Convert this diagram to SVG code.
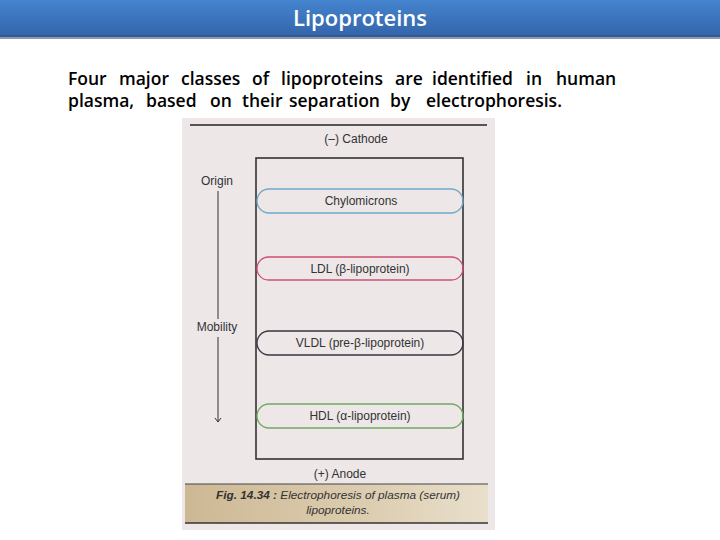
<svg xmlns="http://www.w3.org/2000/svg" width="720" height="540" viewBox="0 0 720 540">
<defs>
<linearGradient id="bar" x1="0" y1="0" x2="0" y2="1">
<stop offset="0" stop-color="#4584cf"/>
<stop offset="1" stop-color="#3466ab"/>
</linearGradient>
<linearGradient id="cap" x1="0" y1="0" x2="1" y2="0">
<stop offset="0" stop-color="#cdb894"/>
<stop offset="0.6" stop-color="#dccdb0"/>
<stop offset="1" stop-color="#e8dfcc"/>
</linearGradient>
<marker id="arr" markerWidth="8" markerHeight="8" refX="6" refY="4" orient="auto" markerUnits="userSpaceOnUse">
<path d="M2,1 L6,4 L2,7" fill="none" stroke="#333" stroke-width="1"/>
</marker>
<style>
.body{font-family:"Open Sans","Noto Sans","DejaVu Sans",sans-serif;font-size:17.5px;font-weight:600;fill:#000}
.lab{font-family:"Liberation Sans",Arial,sans-serif;font-size:12px;fill:#333}
.cap{font-family:"Liberation Sans",Arial,sans-serif;font-size:11.8px;font-style:italic;fill:#333}
.pill{fill:none;stroke-width:1.3}
</style>
</defs>
<rect width="720" height="540" fill="#fff"/>
<g id="title">
<rect x="0" y="0" width="720" height="35" fill="url(#bar)"/>
<rect x="0" y="35" width="720" height="2" fill="#2f5a92"/>
<rect x="0" y="37" width="720" height="2" fill="#8d9aab"/>
<text x="360" y="26" text-anchor="middle" font-family="'Open Sans','Noto Sans',sans-serif" font-size="22" font-weight="600" fill="#fff">Lipoproteins</text>
</g>
<g id="intro" class="body">
<text y="85"><tspan x="68">Four</tspan><tspan x="119">major</tspan><tspan x="181">classes</tspan><tspan x="252">of</tspan><tspan x="281">lipoproteins</tspan><tspan x="395">are</tspan><tspan x="432">identified</tspan><tspan x="526">in</tspan><tspan x="556">human</tspan></text>
<text y="107"><tspan x="68">plasma,</tspan><tspan x="146">based</tspan><tspan x="210">on</tspan><tspan x="242">their</tspan><tspan x="289">separation</tspan><tspan x="390">by</tspan><tspan x="426">electrophoresis.</tspan></text>
</g>
<g id="figure">
<rect x="182" y="118" width="313" height="412" fill="#ede7e8"/>
<line x1="190" y1="125" x2="487" y2="125" stroke="#555" stroke-width="2"/>
<text class="lab" x="356" y="143" text-anchor="middle">(–) Cathode</text>
<rect x="256" y="158" width="207" height="301" fill="none" stroke="#333" stroke-width="1.6"/>
<text class="lab" x="340" y="478" text-anchor="middle">(+) Anode</text>
</g>
<g id="caption">
<rect x="185" y="484" width="303" height="39" fill="url(#cap)"/>
<line x1="185" y1="484" x2="488" y2="484" stroke="#444" stroke-width="1.2"/>
<line x1="185" y1="523" x2="488" y2="523" stroke="#333" stroke-width="1.5"/>
<text class="cap" x="338" y="499" text-anchor="middle"><tspan font-weight="bold">Fig. 14.34 :</tspan> Electrophoresis of plasma (serum)</text>
<text class="cap" x="338" y="514" text-anchor="middle">lipoproteins.</text>
</g>
<g id="origin">
<text class="lab" x="217" y="185" text-anchor="middle">Origin</text>
</g>
<g id="mobility">
<text class="lab" x="217" y="331" text-anchor="middle">Mobility</text>
</g>
<g id="chylomicrons">
<rect class="pill" x="257" y="189" width="206" height="24" rx="12" stroke="#6fa9c9"/>
<text class="lab" x="361" y="205" text-anchor="middle">Chylomicrons</text>
</g>
<g id="ldl">
<rect class="pill" x="257" y="257" width="206" height="23" rx="11.5" stroke="#cf4f70"/>
<text class="lab" x="360" y="273" text-anchor="middle">LDL (β-lipoprotein)</text>
</g>
<g id="vldl">
<rect class="pill" x="257" y="331" width="206" height="24" rx="12" stroke="#3a3540"/>
<text class="lab" x="360" y="347" text-anchor="middle">VLDL (pre-β-lipoprotein)</text>
</g>
<g id="hdl">
<rect class="pill" x="257" y="404" width="206" height="24" rx="12" stroke="#6faa64"/>
<text class="lab" x="360" y="420" text-anchor="middle">HDL (α-lipoprotein)</text>
</g>
<g id="connectors" stroke="#333" stroke-width="1" fill="none">
<line x1="218" y1="191" x2="218" y2="319"/>
<line x1="218" y1="337" x2="218" y2="422" marker-end="url(#arr)"/>
</g>
</svg>
